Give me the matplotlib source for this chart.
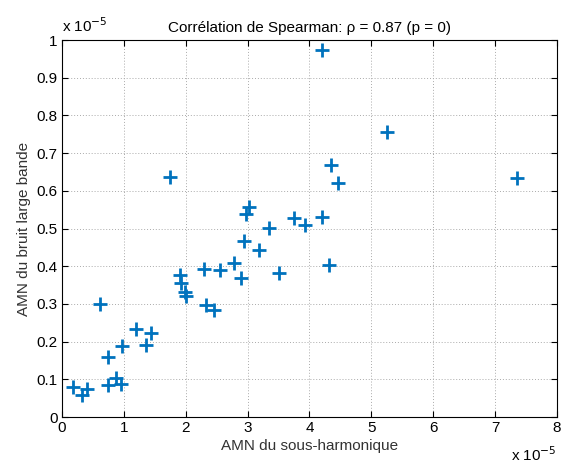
import numpy as np
from matplotlib import pyplot as plt

plt.rcParams['font.family'] = ['Liberation Sans', 'DejaVu Sans']

# AMN values, in units of 1e-5
sous_harmonique = [4.20, 5.26, 4.34, 4.46, 7.35, 3.75, 3.93, 4.21, 4.32, 3.50,
                   1.745, 3.03, 2.98, 3.34, 2.94, 3.18, 2.78, 2.55, 2.29, 2.89,
                   1.906, 1.93, 1.99, 2.00, 2.32, 2.46, 1.44, 0.61, 1.20, 1.35,
                   0.97, 0.74, 0.17, 0.33, 0.40, 0.74, 0.88, 0.96]
bruit_large_bande = [0.973, 0.757, 0.668, 0.622, 0.633, 0.529, 0.509, 0.532, 0.404, 0.381,
                     0.638, 0.557, 0.538, 0.502, 0.467, 0.443, 0.410, 0.390, 0.392, 0.368,
                     0.378, 0.356, 0.333, 0.321, 0.296, 0.283, 0.222, 0.301, 0.233, 0.190,
                     0.188, 0.160, 0.081, 0.058, 0.075, 0.086, 0.103, 0.087]

xticks = [0, 1, 2, 3, 4, 5, 6, 7, 8]
yticks = [0, 0.1, 0.2, 0.3, 0.4, 0.5, 0.6, 0.7, 0.8, 0.9, 1]
ytick_labels = ['0', '0.1', '0.2', '0.3', '0.4', '0.5', '0.6', '0.7', '0.8', '0.9', '1']

fig = plt.figure(figsize=(5.62, 4.66), dpi=100)
ax = fig.add_axes([0.1103, 0.105, 0.8807, 0.809])

ax.plot(sous_harmonique, bruit_large_bande, '+', color='#0072BD',
        markersize=10, markeredgewidth=2)

ax.set_xlim(0, 8)
ax.set_ylim(0, 1)
ax.set_xticks(xticks)
ax.set_yticks(yticks)
ax.set_yticklabels(ytick_labels)
ax.grid(True, linestyle=(0, (1, 2)), color='#aaaaaa', linewidth=0.7)
ax.tick_params(direction='in', top=True, right=True, labelsize=11, length=4, pad=3)
for s in ax.spines.values():
    s.set_linewidth(0.8)

ax.set_xlabel('AMN du sous-harmonique', fontsize=11, color='#333333', labelpad=3)
ax.set_ylabel('AMN du bruit large bande', fontsize=11, color='#333333', labelpad=4)
ax.set_title('Corrélation de Spearman: ρ = 0.87 (p = 0)', fontsize=11, pad=6)

fig.text(0.11, 0.925, r'x 10$^{-5}$', fontsize=11, ha='left', va='bottom')
fig.text(0.99, 0.005, r'x 10$^{-5}$', fontsize=11, ha='right', va='bottom')

fig.savefig('out.png', dpi=100)
